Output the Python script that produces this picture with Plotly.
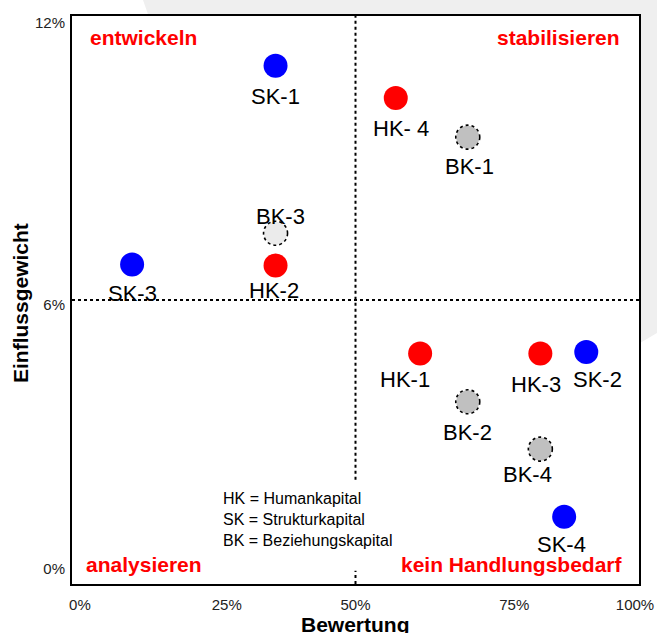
import plotly.graph_objects as go

# ---- data ----
hk_names = ["HK-1", "HK-2", "HK-3", "HK- 4"]
hk_bewertung = [0.614, 0.359, 0.826, 0.571]
hk_einfluss = [4.87, 6.73, 4.87, 10.27]

sk_names = ["SK-1", "SK-2", "SK-3", "SK-4"]
sk_bewertung = [0.359, 0.907, 0.106, 0.868]
sk_einfluss = [10.95, 4.90, 6.75, 1.42]

bk_names = ["BK-1", "BK-2", "BK-3", "BK-4"]
bk_bewertung = [0.698, 0.698, 0.359, 0.826]
bk_einfluss = [9.44, 3.85, 7.41, 2.85]

x_tick_labels = ["0%", "25%", "50%", "75%", "100%"]
y_tick_labels = ["0%", "6%", "12%"]

quadrant_labels = ["entwickeln", "stabilisieren", "analysieren", "kein Handlungsbedarf"]
legend_lines = ["HK = Humankapital", "SK = Strukturkapital", "BK = Beziehungskapital"]

# ---- styling / layout helpers ----
FONT = "Arial, Liberation Sans, sans-serif"
x_tick_pos = [0.014, 0.273, 0.5, 0.78, 0.993]
y_tick_pos = [0.317, 5.89, 11.85]
label_offsets = {
    "HK-1": (-15, -26), "HK-2": (-2, -25), "HK-3": (-4, -31), "HK- 4": (5, -31),
    "SK-1": (0, -31), "SK-2": (11, -27), "SK-3": (0, -29), "SK-4": (-3, -28),
    "BK-1": (2, -29), "BK-2": (0, -31), "BK-3": (5, 17), "BK-4": (-13, -25),
}
bk_fill = {"BK-1": "#c0c0c0", "BK-2": "#c0c0c0", "BK-3": "#ebebeb", "BK-4": "#c0c0c0"}

fig = go.Figure()

fig.add_trace(go.Scatter(x=hk_bewertung, y=hk_einfluss, mode="markers",
                         marker=dict(size=24, color="#ff0000", line=dict(width=0)),
                         hovertext=hk_names, showlegend=False))
fig.add_trace(go.Scatter(x=sk_bewertung, y=sk_einfluss, mode="markers",
                         marker=dict(size=24, color="#0000ff", line=dict(width=0)),
                         hovertext=sk_names, showlegend=False))
fig.add_trace(go.Scatter(x=bk_bewertung, y=bk_einfluss, mode="markers",
                         marker=dict(size=23, color=[bk_fill[n] for n in bk_names], line=dict(width=0)),
                         hovertext=bk_names, showlegend=False))

shapes = []
# decorative grey background shape, then white plot area on top of it
shapes.append(dict(type="path", xref="paper", yref="paper", layer="below",
                   path="M 0.1252,1.10 L 0.1252,1.0282 L 0.1376,0.993 L 0.58,0.45 "
                        "L 1.0018,0.4243 L 1.0317,0.4419 L 1.10,0.4419 L 1.10,1.10 Z",
                   fillcolor="#efefef", line=dict(width=0)))
shapes.append(dict(type="rect", xref="paper", yref="paper", layer="below",
                   x0=0, x1=1, y0=0, y1=1, fillcolor="white", line=dict(width=0)))
# dotted quadrant lines
shapes.append(dict(type="line", xref="x", yref="y", x0=0, x1=1, y0=6, y1=6,
                   line=dict(color="black", width=2, dash="dot")))
shapes.append(dict(type="line", xref="x", yref="y", x0=0.5, x1=0.5, y0=2.2, y1=12,
                   line=dict(color="black", width=2, dash="dot")))
shapes.append(dict(type="line", xref="x", yref="y", x0=0.5, x1=0.5, y0=0, y1=0.28,
                   line=dict(color="black", width=2, dash="dot")))
# dotted outlines of BK markers
for n, xv, yv in zip(bk_names, bk_bewertung, bk_einfluss):
    shapes.append(dict(type="circle", xref="x", yref="y", xsizemode="pixel", ysizemode="pixel",
                       xanchor=xv, yanchor=yv, x0=-12, x1=12, y0=-12, y1=12,
                       line=dict(color="black", width=1.6, dash="dot")))

annotations = []
for names, xs, ys in [(hk_names, hk_bewertung, hk_einfluss),
                      (sk_names, sk_bewertung, sk_einfluss),
                      (bk_names, bk_bewertung, bk_einfluss)]:
    for n, xv, yv in zip(names, xs, ys):
        dx, dy = label_offsets[n]
        annotations.append(dict(x=xv, y=yv, xref="x", yref="y", text=n, showarrow=False,
                                xshift=dx, yshift=dy, font=dict(family=FONT, size=22, color="black")))

qfont = dict(family=FONT, size=21, color="#ff0000")
annotations += [
    dict(x=0.0282, y=0.963, xref="paper", yref="paper", text="<b>%s</b>" % quadrant_labels[0],
         xanchor="left", yanchor="middle", showarrow=False, font=qfont),
    dict(x=0.970, y=0.963, xref="paper", yref="paper", text="<b>%s</b>" % quadrant_labels[1],
         xanchor="right", yanchor="middle", showarrow=False, font=qfont),
    dict(x=0.0212, y=0.0335, xref="paper", yref="paper", text="<b>%s</b>" % quadrant_labels[2],
         xanchor="left", yanchor="middle", showarrow=False, font=qfont),
    dict(x=0.9753, y=0.0335, xref="paper", yref="paper", text="<b>%s</b>" % quadrant_labels[3],
         xanchor="right", yanchor="middle", showarrow=False, font=qfont),
    dict(x=0.2628, y=0.1127, xref="paper", yref="paper", text="<br>".join(legend_lines),
         xanchor="left", yanchor="middle", align="left", showarrow=False,
         font=dict(family=FONT, size=16, color="black")),
    dict(x=0.5, y=-0.072, xref="paper", yref="paper", text="<b>Bewertung</b>",
         xanchor="center", yanchor="middle", showarrow=False,
         font=dict(family=FONT, size=21, color="black")),
    dict(x=-0.0917, y=0.4947, xref="paper", yref="paper", text="<b>Einflussgewicht</b>",
         textangle=-90, xanchor="center", yanchor="middle", showarrow=False,
         font=dict(family=FONT, size=21, color="black")),
]

fig.update_layout(
    width=657, height=633, autosize=False,
    margin=dict(l=72, r=18, t=16, b=49),
    paper_bgcolor="white", plot_bgcolor="rgba(0,0,0,0)",
    hovermode=False,
    shapes=shapes, annotations=annotations, showlegend=False,
    xaxis=dict(range=[0, 1], tickvals=x_tick_pos, ticktext=x_tick_labels, automargin=False,
               showgrid=False, zeroline=False, showline=True, linecolor="black", linewidth=2,
               mirror=True, ticks="", ticklabelstandoff=6,
               tickfont=dict(family=FONT, size=15, color="#222222")),
    yaxis=dict(range=[0, 12], tickvals=y_tick_pos, ticktext=y_tick_labels, automargin=False,
               showgrid=False, zeroline=False, showline=True, linecolor="black", linewidth=2,
               mirror=True, ticks="", ticklabelstandoff=2,
               tickfont=dict(family=FONT, size=15, color="#222222")),
)

# remove the default 8px page margin so the figure fills the window exactly
fig.write_html("out.html",
               config={"displayModeBar": False, "responsive": False},
               post_script="document.body.style.margin='0';document.body.style.overflow='hidden';")
